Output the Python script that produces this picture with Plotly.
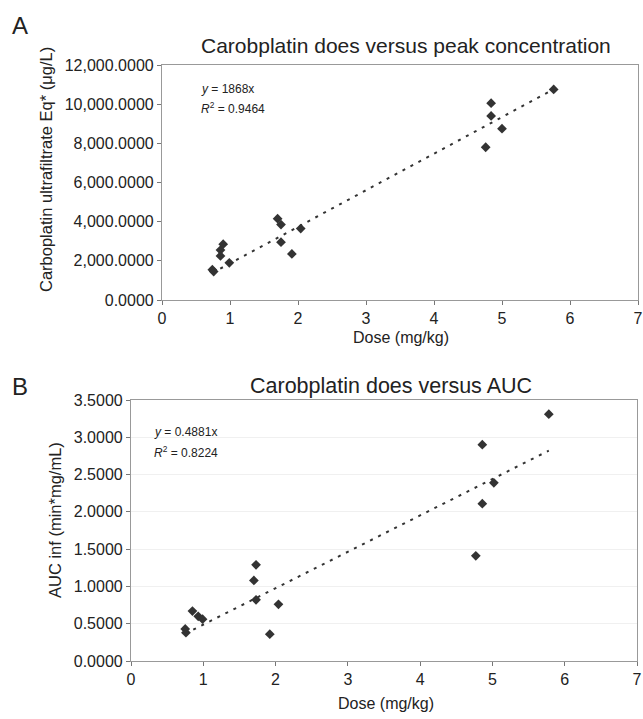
import plotly.graph_objects as go

# Panel A data
dose_a = [0.74, 0.76, 0.86, 0.86, 0.90, 0.99, 1.70, 1.75, 1.75, 1.91, 2.04, 4.76, 4.84, 4.84, 5.00, 5.76]
peak_a = [1550, 1450, 2550, 2250, 2850, 1900, 4150, 3850, 2950, 2350, 3650, 7800, 10050, 9400, 8750, 10750]
slope_a = 1868
r2_a = "0.9464"

# Panel B data
dose_b = [0.75, 0.76, 0.85, 0.93, 0.99, 1.70, 1.73, 1.73, 1.92, 2.04, 4.77, 4.86, 4.86, 5.02, 5.78]
auc_b = [0.43, 0.38, 0.67, 0.60, 0.56, 1.08, 1.29, 0.82, 0.36, 0.76, 1.41, 2.90, 2.11, 2.39, 3.31]
slope_b = 0.4881
r2_b = "0.8224"

x_ticks = [0, 1, 2, 3, 4, 5, 6, 7]
ya_ticks = [0, 2000, 4000, 6000, 8000, 10000, 12000]
yb_ticks = [0, 0.5, 1.0, 1.5, 2.0, 2.5, 3.0, 3.5]

W, H = 643, 719
FONT = "Liberation Sans, Arial, Helvetica, sans-serif"
MK = "#333333"

def px(x):
    return x / W

def py(y):
    return 1 - y / H

fig = go.Figure()

# scatter A
fig.add_trace(go.Scatter(x=dose_a, y=peak_a, mode="markers", xaxis="x", yaxis="y",
                         marker=dict(symbol="diamond", size=7.5, color=MK), showlegend=False))
tx_a = [min(dose_a), max(dose_a)]
fig.add_trace(go.Scatter(x=tx_a, y=[slope_a * v for v in tx_a], mode="lines", xaxis="x", yaxis="y",
                         line=dict(color=MK, width=2, dash="3px,6px"), showlegend=False))
# scatter B
fig.add_trace(go.Scatter(x=dose_b, y=auc_b, mode="markers", xaxis="x2", yaxis="y2",
                         marker=dict(symbol="diamond", size=7.5, color=MK), showlegend=False))
tx_b = [min(dose_b), max(dose_b)]
fig.add_trace(go.Scatter(x=tx_b, y=[slope_b * v for v in tx_b], mode="lines", xaxis="x2", yaxis="y2",
                         line=dict(color=MK, width=2, dash="3px,6px"), showlegend=False))

tickfont = dict(family=FONT, size=16, color="#222222")
common_x = dict(range=[0, 7], tickvals=x_ticks, showgrid=False, zeroline=False,
                showline=True, linecolor="#999999", linewidth=1.2, mirror=True,
                ticks="outside", ticklen=4, tickcolor="#777777", tickfont=tickfont, automargin=False)

fig.update_layout(
    width=W, height=H,
    margin=dict(l=0, r=0, t=0, b=0),
    paper_bgcolor="white", plot_bgcolor="white",
    font=dict(family=FONT, color="#222222"),
    xaxis=dict(domain=[px(162), px(638)], anchor="y", **common_x),
    yaxis=dict(domain=[py(300), py(65)], anchor="x", range=[0, 12000], tickvals=ya_ticks,
               tickformat=",.4f", showgrid=False, zeroline=False,
               showline=True, linecolor="#999999", linewidth=1.2, mirror=True,
               ticks="outside", ticklen=4, tickcolor="#777777", tickfont=tickfont, automargin=False),
    xaxis2=dict(domain=[px(131), px(637)], anchor="y2", **common_x),
    yaxis2=dict(domain=[py(661), py(400)], anchor="x2", range=[0, 3.5], tickvals=yb_ticks,
                tickformat=".4f", showgrid=True, gridcolor="#f0f0f0", zeroline=False,
                showline=True, linecolor="#999999", linewidth=1.2, mirror=True,
                ticks="outside", ticklen=4, tickcolor="#777777", tickfont=tickfont, automargin=False),
)

def ann(text, x, y, size=15, angle=0, xanchor="center", yanchor="middle"):
    fig.add_annotation(text=text, x=px(x), y=py(y), xref="paper", yref="paper",
                       showarrow=False, textangle=angle, xanchor=xanchor, yanchor=yanchor,
                       font=dict(family=FONT, size=size, color="#222222"))

# panel letters
ann("A", 10, 25, size=24, xanchor="left")
ann("B", 10, 386, size=24, xanchor="left")
# titles
ann("Carobplatin does versus peak concentration", 406, 45, size=21)
ann("Carobplatin does versus AUC", 391, 386, size=21.5)
# axis titles
ann("Carboplatin ultrafiltrate Eq* (μg/L)", 46, 170, size=16.5, angle=-90)
ann("AUC inf (min*mg/mL)", 55, 520, size=16.5, angle=-90)
ann("Dose (mg/kg)", 401, 337, size=16)
ann("Dose (mg/kg)", 386, 703, size=16)
# equations
ann("<i>y</i> = %dx" % slope_a, 199, 89, size=12, xanchor="left")
ann("<i>R</i><sup>2</sup> = %s" % r2_a, 199, 108, size=12, xanchor="left")
ann("<i>y</i> = %sx" % slope_b, 152, 432, size=12, xanchor="left")
ann("<i>R</i><sup>2</sup> = %s" % r2_b, 152, 452, size=12, xanchor="left")

fig.write_html(
    "out.html",
    config={"displayModeBar": False},
    post_script="document.body.style.margin='0';document.body.style.overflow='hidden';",
)
